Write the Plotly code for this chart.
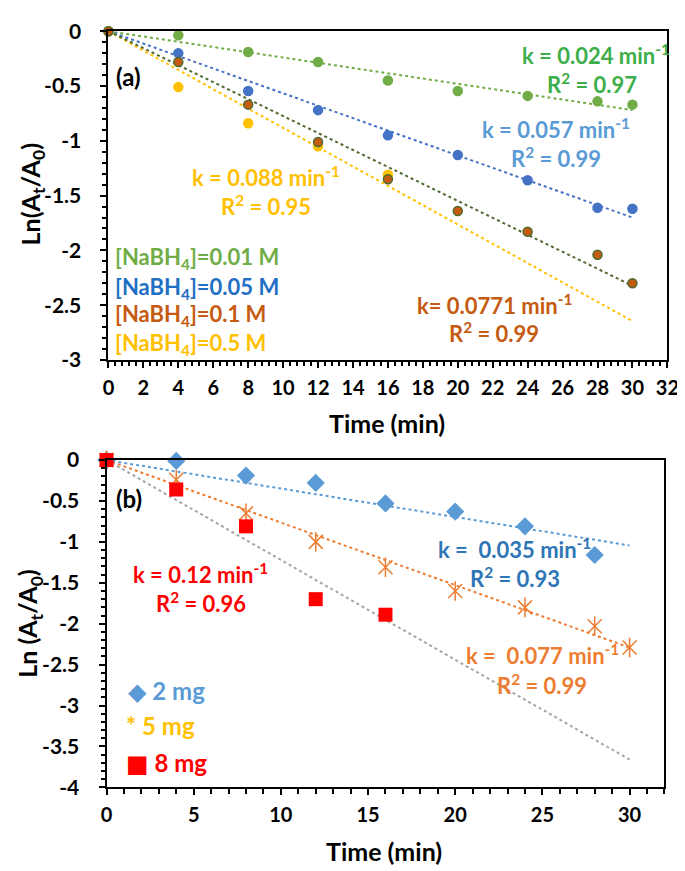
import numpy as np
import plotly.graph_objects as go

# ---------------- data: panel (a) ----------------
t_a = [0, 4, 8, 12, 16, 20, 24, 28, 30]
y_a_001 = [0, -0.036, -0.19, -0.28, -0.45, -0.545, -0.59, -0.64, -0.67]
y_a_005 = [0, -0.20, -0.545, -0.72, -0.95, -1.13, -1.36, -1.61, -1.62]
y_a_01 = [0, -0.28, -0.67, -1.01, -1.35, -1.64, -1.83, -2.04, -2.30]
t_a_05 = [0, 4, 8, 12, 16]
y_a_05 = [0, -0.51, -0.84, -1.05, -1.31]

# ---------------- data: panel (b) ----------------
t_b_2 = [0, 4, 8, 12, 16, 20, 24, 28]
y_b_2 = [0, -0.01, -0.19, -0.28, -0.53, -0.63, -0.81, -1.16]
t_b_5 = [0, 4, 8, 12, 16, 20, 24, 28, 30]
y_b_5 = [0, -0.24, -0.65, -1.00, -1.31, -1.60, -1.80, -2.03, -2.29]
t_b_8 = [0, 4, 8, 12, 16]
y_b_8 = [0, -0.36, -0.81, -1.70, -1.89]

fit_span = [0, 30]

# tick labels
xa_ticks = list(range(0, 33, 2))
ya_ticks = [0, -0.5, -1, -1.5, -2, -2.5, -3]
xb_ticks = [0, 5, 10, 15, 20, 25, 30]
yb_ticks = [0, -0.5, -1, -1.5, -2, -2.5, -3, -3.5, -4]

FONT = "Lato, 'Open Sans', 'DejaVu Sans', sans-serif"
W, H = 685, 871


def fmt(v):
    return "%g" % v


def kfit(t, y):
    t = np.asarray(t, float)
    y = np.asarray(y, float)
    return float((t * y).sum() / (t * t).sum())


def fit_line(t, y):
    k = kfit(t, y)
    xs = np.array(fit_span, float)
    return xs, k * xs


fig = go.Figure()

# ---- panel (a) trendlines ----
for (t, y, c) in [(t_a, y_a_001, "#70AD47"), (t_a, y_a_005, "#4472C4"),
                  (t_a_05, y_a_05, "#FFC000"), (t_a, y_a_01, "#4E6B30")]:
    xs, ys = fit_line(t, y)
    fig.add_trace(go.Scatter(x=xs, y=ys, mode="lines", xaxis="x", yaxis="y",
                             line=dict(color=c, width=2, dash="dot"),
                             showlegend=False, hoverinfo="skip"))

# ---- panel (a) markers ----
for (t, y, c, lc) in [(t_a, y_a_001, "#70AD47", "#70AD47"),
                      (t_a, y_a_005, "#4472C4", "#4472C4"),
                      (t_a_05, y_a_05, "#FFC000", "#FFC000"),
                      (t_a, y_a_01, "#C55A11", "#4E6B30")]:
    fig.add_trace(go.Scatter(x=t, y=y, mode="markers", xaxis="x", yaxis="y",
                             marker=dict(color=c, size=9, symbol="circle",
                                         line=dict(color=lc, width=1.5)),
                             cliponaxis=False, showlegend=False))

# ---- panel (b) trendlines ----
for (t, y, c) in [(t_b_2, y_b_2, "#5B9BD5"), (t_b_5, y_b_5, "#ED7D31"),
                  (t_b_8, y_b_8, "#A5A5A5")]:
    xs, ys = fit_line(t, y)
    fig.add_trace(go.Scatter(x=xs, y=ys, mode="lines", xaxis="x2", yaxis="y2",
                             line=dict(color=c, width=2, dash="dot"),
                             showlegend=False, hoverinfo="skip"))

# ---- panel (b) markers ----
fig.add_trace(go.Scatter(x=t_b_2, y=y_b_2, mode="markers", xaxis="x2", yaxis="y2",
                         marker=dict(color="#5B9BD5", size=14, symbol="diamond"),
                         cliponaxis=False, showlegend=False))
for sym in ["x-thin-open", "line-ns-open"]:
    fig.add_trace(go.Scatter(x=t_b_5, y=y_b_5, mode="markers", xaxis="x2", yaxis="y2",
                             marker=dict(color="#ED7D31", size=14, symbol=sym,
                                         line=dict(color="#ED7D31", width=1.5)),
                             cliponaxis=False, showlegend=False))
fig.add_trace(go.Scatter(x=t_b_8, y=y_b_8, mode="markers", xaxis="x2", yaxis="y2",
                         marker=dict(color="#FF0000", size=14, symbol="square"),
                         cliponaxis=False, showlegend=False))

# ---- axes ----
xfont = dict(family=FONT, size=20, color="black", weight="bold")
yfont = dict(family=FONT, size=21, color="black", weight="bold")


def axis_common(f):
    return dict(showgrid=False, zeroline=False, showline=True, linecolor="black",
                linewidth=2, mirror=True, ticks="outside", ticklen=6, tickwidth=2,
                tickcolor="black", tickfont=f)


xa = axis_common(xfont)
xa.update(domain=[97 / W, 671 / W], range=[0, 32], anchor="y",
          tickvals=xa_ticks, ticktext=[fmt(v) for v in xa_ticks],
          ticklabelstandoff=3,
          minor=dict(dtick=0.4, tick0=0, ticks="outside", ticklen=4,
                     tickwidth=1.5, tickcolor="black"))
ya = axis_common(yfont)
ya.update(domain=[(H - 348) / H, (H - 9.5) / H], range=[-3, 0], anchor="x",
          tickvals=ya_ticks, ticktext=[fmt(v) for v in ya_ticks],
          ticklabelstandoff=15,
          minor=dict(dtick=0.1, tick0=0, ticks="outside", ticklen=4,
                     tickwidth=1.5, tickcolor="black"))
xb = axis_common(xfont)
xb.update(domain=[95 / W, 668 / W], range=[0, 32], anchor="y2",
          tickvals=xb_ticks, ticktext=[fmt(v) for v in xb_ticks],
          ticklabelstandoff=3,
          minor=dict(dtick=1, tick0=0, ticks="outside", ticklen=5,
                     tickwidth=1.5, tickcolor="black"))
yb = axis_common(yfont)
yb.update(domain=[(H - 788) / H, (H - 451) / H], range=[-4, 0], anchor="x2",
          tickvals=yb_ticks, ticktext=[fmt(v) for v in yb_ticks],
          ticklabelstandoff=15,
          minor=dict(dtick=0.1, tick0=0, ticks="outside", ticklen=4,
                     tickwidth=1.5, tickcolor="black"))

ann = []


def txt(x, y, s, color, size=22, xref="x", yref="y", xanchor="center", angle=0):
    ann.append(dict(x=x, y=y, xref=xref, yref=yref, text=s, showarrow=False,
                    xanchor=xanchor, yanchor="middle", textangle=angle,
                    font=dict(family=FONT, size=size, color=color, weight="bold")))


# panel (a) labels
txt(1.12, -0.41, "(a)", "black", 24)
txt(27.9, -0.21, "k = 0.024 min<sup>-1</sup>", "#3DAE4A")
txt(27.7, -0.475, "R<sup>2</sup> = 0.97", "#3DAE4A")
txt(25.6, -0.89, "k = 0.057 min<sup>-1</sup>", "#5B9BD5")
txt(25.6, -1.15, "R<sup>2</sup> = 0.99", "#5B9BD5")
txt(9.0, -1.33, "k = 0.088 min<sup>-1</sup>", "#FFC000")
txt(9.0, -1.59, "R<sup>2</sup> = 0.95", "#FFC000")
txt(22.1, -2.49, "k= 0.0771 min<sup>-1</sup>", "#C55A11")
txt(22.1, -2.75, "R<sup>2</sup> = 0.99", "#C55A11")
txt(0.27, -2.07, "[NaBH<sub>4</sub>]=0.01 M", "#70AD47", 22, xanchor="left")
txt(0.27, -2.34, "[NaBH<sub>4</sub>]=0.05 M", "#1F6FC5", 22, xanchor="left")
txt(0.27, -2.59, "[NaBH<sub>4</sub>]=0.1 M", "#C55A11", 22, xanchor="left")
txt(0.27, -2.85, "[NaBH<sub>4</sub>]=0.5 M", "#FFC000", 22, xanchor="left")

# panel (b) labels
txt(1.27, -0.475, "(b)", "black", 24, "x2", "y2")
txt(23.4, -1.08, "k =  0.035 min<sup>-1</sup>", "#2E75B6", 22, "x2", "y2")
txt(23.4, -1.44, "R<sup>2</sup> = 0.93", "#2E75B6", 22, "x2", "y2")
txt(5.4, -1.39, "k = 0.12 min<sup>-1</sup>", "#FF0000", 22, "x2", "y2")
txt(5.4, -1.74, "R<sup>2</sup> = 0.96", "#FF0000", 22, "x2", "y2")
txt(25.0, -2.38, "k =  0.077 min<sup>-1</sup>", "#ED7D31", 22, "x2", "y2")
txt(25.0, -2.74, "R<sup>2</sup> = 0.99", "#ED7D31", 22, "x2", "y2")
txt(1.1, -2.82, "◆ 2 mg", "#5B9BD5", 24, "x2", "y2", xanchor="left")
txt(1.0, -3.24, "* 5 mg", "#FFC000", 24, "x2", "y2", xanchor="left")
txt(1.0, -3.70, "■ 8 mg", "#FF0000", 24, "x2", "y2", xanchor="left")

# axis titles
txt(18 / W, 1 - 178 / H, "Ln(A<sub>t</sub>/A<sub>0</sub>)", "black", 25, "paper", "paper", angle=-90)
txt(383 / W, 1 - 413 / H, "Time (min)", "black", 25, "paper", "paper")
txt(16 / W, 1 - 620 / H, "Ln (A<sub>t</sub>/A<sub>0</sub>)", "black", 25, "paper", "paper", angle=-90)
txt(380 / W, 1 - 854 / H, "Time (min)", "black", 25, "paper", "paper")

fig.update_layout(width=W, height=H, margin=dict(l=0, r=0, t=0, b=0),
                  paper_bgcolor="white", plot_bgcolor="white",
                  xaxis=xa, yaxis=ya, xaxis2=xb, yaxis2=yb,
                  annotations=ann, showlegend=False,
                  font=dict(family=FONT))

fig.write_html("out.html")
